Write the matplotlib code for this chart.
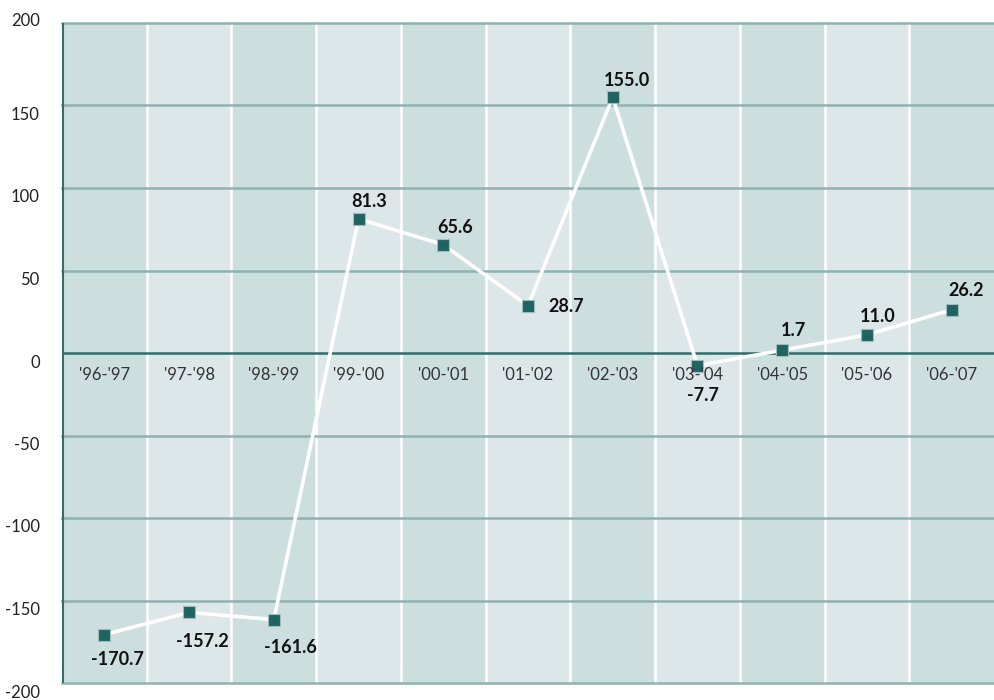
import numpy as np
import matplotlib
matplotlib.use("Agg")
import matplotlib.pyplot as plt
from matplotlib.transforms import ScaledTranslation

seasons = ["'96-'97", "'97-'98", "'98-'99", "'99-'00", "'00-'01", "'01-'02",
           "'02-'03", "'03-'04", "'04-'05", "'05-'06", "'06-'07"]
values = [-170.7, -157.2, -161.6, 81.3, 65.6, 28.7, 155.0, -7.7, 1.7, 11.0, 26.2]
y_ticks = [200, 150, 100, 50, 0, -50, -100, -150, -200]

# where each value label sits relative to its marker (pixels)
label_offsets = [(13, -25), (13, -29), (17, -28), (11, 17), (12, 17), (38, -1),
                 (14, 17), (5, -30), (11, 20), (11, 18), (14, 19)]

DARK_BAND = "#cddedf"
LIGHT_BAND = "#dde6e8"
GRID = "#8fb2b1"
TEAL = "#1f6461"

plt.rcParams['font.family'] = ['Lato', 'DejaVu Sans']

fig = plt.figure(figsize=(9.94, 7.0), dpi=100)
ax = fig.add_axes([62 / 994, 17 / 700, 1 - 62 / 994, 660 / 700])
x = np.arange(len(seasons))

ax.set_xlim(-0.5, len(seasons) - 0.5)
ax.set_ylim(-200, 200)

# alternating column bands with white separators
for i in x:
    ax.axvspan(i - 0.5, i + 0.5, color=DARK_BAND if i % 2 == 0 else LIGHT_BAND,
               lw=0, zorder=0)
    if i > 0:
        ax.axvline(i - 0.5, color="white", lw=1.8, zorder=1)

for t in y_ticks:
    if t != 0:
        ax.axhline(t, color=GRID, lw=1.8, zorder=2, clip_on=False)
ax.axhline(0, color="#2e6e6c", lw=1.8, zorder=2)

for s in ax.spines.values():
    s.set_visible(False)
ax.axvline(-0.5, color="#2e6e6c", lw=2.2, zorder=3)

ax.plot(x, values, color="white", lw=2.6, zorder=4)
ax.plot(x, values, ls="none", marker="s", ms=8, mfc=TEAL, mec="#9fbcbc",
        mew=0.8, zorder=5)

for xi, v, (dx, dy) in zip(x, values, label_offsets):
    ax.annotate(f"{v:.1f}", (xi, v), xytext=(dx, dy), textcoords="offset pixels",
                ha="center", va="center", fontsize=13, fontweight="bold",
                color="#111111", zorder=6)

for xi, s in zip(x, seasons):
    ax.annotate(s, (xi, 0), xytext=(0, -22), textcoords="offset pixels",
                ha="center", va="center", fontsize=12, color="#333333", zorder=6)

ax.set_xticks([])
ax.set_yticks(y_ticks)
ax.set_yticklabels([str(t) for t in y_ticks], fontsize=12, color="#222222")
ax.tick_params(axis="y", length=0, pad=16)
for lab, t in zip(ax.get_yticklabels(), y_ticks):
    dy = 3 if t == 200 else -8
    lab.set_transform(lab.get_transform() + ScaledTranslation(0, dy / 100, fig.dpi_scale_trans))

fig.savefig("out.png", dpi=100)
